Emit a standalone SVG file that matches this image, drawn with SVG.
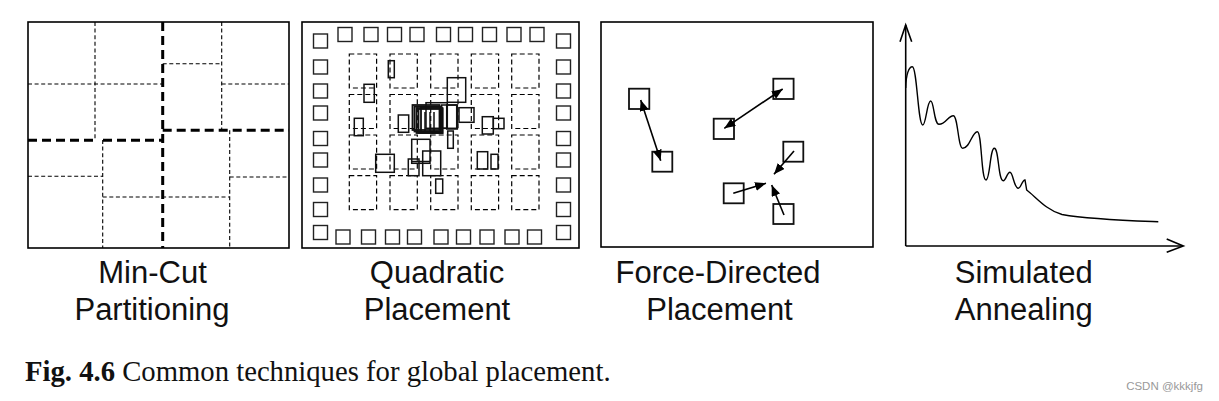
<svg xmlns="http://www.w3.org/2000/svg" width="1219" height="401" viewBox="0 0 1219 401">
<style>
.frame{fill:none;stroke:#000;stroke-width:1.6}
.thin{fill:none;stroke:#000;stroke-width:1.1;stroke-dasharray:4 2.6}
.thick{fill:none;stroke:#000;stroke-width:3;stroke-dasharray:9 5}
.slot{fill:none;stroke:#000;stroke-width:1.2;stroke-dasharray:5 3}
.pad{fill:none;stroke:#222;stroke-width:1.4}
.cell{fill:none;stroke:#111;stroke-width:1.5}
.blk{fill:none;stroke:#111;stroke-width:1.8}
.arr{fill:none;stroke:#000;stroke-width:1.6}
.lbl{font-family:"Liberation Sans",Arial,sans-serif;font-size:31px;fill:#111;text-anchor:middle}
.cap{font-family:"Liberation Serif","Times New Roman",serif;font-size:28.7px;fill:#111}
</style>
<defs>
<marker id="ah" markerUnits="userSpaceOnUse" markerWidth="11" markerHeight="9" refX="11" refY="4.5" orient="auto-start-reverse">
<path d="M0,0 L11,4.5 L0,9 z" fill="#000"/>
</marker>
</defs>
<rect width="1219" height="401" fill="#fff"/>

<g id="mincut">
<rect class="frame" x="28" y="22" width="261" height="226"/>
<line class="thin" x1="95" y1="22" x2="95" y2="140"/>
<line class="thin" x1="28" y1="84" x2="162.7" y2="84"/>
<line class="thin" x1="102.7" y1="140" x2="102.7" y2="248"/>
<line class="thin" x1="28" y1="176.3" x2="102.7" y2="176.3"/>
<line class="thin" x1="102.7" y1="197" x2="229.7" y2="197"/>
<line class="thin" x1="221.7" y1="22" x2="221.7" y2="130.3"/>
<line class="thin" x1="162.7" y1="63.7" x2="221.7" y2="63.7"/>
<line class="thin" x1="221.7" y1="84" x2="289" y2="84"/>
<line class="thin" x1="229.7" y1="130.3" x2="229.7" y2="248"/>
<line class="thin" x1="229.7" y1="177" x2="289" y2="177"/>
<line class="thick" x1="162.7" y1="22" x2="162.7" y2="248"/>
<line class="thick" x1="28" y1="140.3" x2="96" y2="140.3"/>
<line class="thick" x1="103" y1="140.3" x2="162.7" y2="140.3"/>
<line class="thick" x1="162.7" y1="130.3" x2="289" y2="130.3"/>
<text class="lbl" x="152.5" y="283">Min-Cut</text>
<text class="lbl" x="152" y="320">Partitioning</text>
</g>

<g id="quadratic">
<rect class="frame" x="302" y="22" width="277" height="226"/>
<g id="pads">
<rect class="pad" x="338" y="27.5" width="14" height="14"/>
<rect class="pad" x="364" y="27.5" width="14" height="14"/>
<rect class="pad" x="387.5" y="27.5" width="14" height="14"/>
<rect class="pad" x="410" y="27.5" width="14" height="14"/>
<rect class="pad" x="436.5" y="27.5" width="14" height="14"/>
<rect class="pad" x="458.5" y="27.5" width="14" height="14"/>
<rect class="pad" x="482.5" y="27.5" width="14" height="14"/>
<rect class="pad" x="507" y="27.5" width="14" height="14"/>
<rect class="pad" x="530" y="27.5" width="14" height="14"/>
<rect class="pad" x="336" y="230" width="14" height="14"/>
<rect class="pad" x="361.5" y="230" width="14" height="14"/>
<rect class="pad" x="385.5" y="230" width="14" height="14"/>
<rect class="pad" x="407.5" y="230" width="14" height="14"/>
<rect class="pad" x="434" y="230" width="14" height="14"/>
<rect class="pad" x="456.5" y="230" width="14" height="14"/>
<rect class="pad" x="480" y="230" width="14" height="14"/>
<rect class="pad" x="505" y="230" width="14" height="14"/>
<rect class="pad" x="527.5" y="230" width="14" height="14"/>
<rect class="pad" x="313.5" y="34" width="14" height="14"/>
<rect class="pad" x="313.5" y="60" width="14" height="14"/>
<rect class="pad" x="313.5" y="84" width="14" height="14"/>
<rect class="pad" x="313.5" y="106" width="14" height="14"/>
<rect class="pad" x="313.5" y="131.5" width="14" height="14"/>
<rect class="pad" x="313.5" y="153" width="14" height="14"/>
<rect class="pad" x="313.5" y="178" width="14" height="14"/>
<rect class="pad" x="313.5" y="202.5" width="14" height="14"/>
<rect class="pad" x="313.5" y="225.5" width="14" height="14"/>
<rect class="pad" x="556.5" y="34" width="14" height="14"/>
<rect class="pad" x="556.5" y="60" width="14" height="14"/>
<rect class="pad" x="556.5" y="84" width="14" height="14"/>
<rect class="pad" x="556.5" y="106" width="14" height="14"/>
<rect class="pad" x="556.5" y="131.5" width="14" height="14"/>
<rect class="pad" x="556.5" y="153" width="14" height="14"/>
<rect class="pad" x="556.5" y="178" width="14" height="14"/>
<rect class="pad" x="556.5" y="202.5" width="14" height="14"/>
<rect class="pad" x="556.5" y="225.5" width="14" height="14"/>
</g>
<g id="slots">
<rect class="slot" x="349.3" y="54" width="27.3" height="34"/>
<rect class="slot" x="390" y="54" width="27.3" height="34"/>
<rect class="slot" x="430.7" y="54" width="27.3" height="34"/>
<rect class="slot" x="471.3" y="54" width="27.3" height="34"/>
<rect class="slot" x="511.7" y="54" width="27.3" height="34"/>
<rect class="slot" x="349.3" y="94.5" width="27.3" height="34"/>
<rect class="slot" x="390" y="94.5" width="27.3" height="34"/>
<rect class="slot" x="430.7" y="94.5" width="27.3" height="34"/>
<rect class="slot" x="471.3" y="94.5" width="27.3" height="34"/>
<rect class="slot" x="511.7" y="94.5" width="27.3" height="34"/>
<rect class="slot" x="349.3" y="135" width="27.3" height="34"/>
<rect class="slot" x="390" y="135" width="27.3" height="34"/>
<rect class="slot" x="430.7" y="135" width="27.3" height="34"/>
<rect class="slot" x="471.3" y="135" width="27.3" height="34"/>
<rect class="slot" x="511.7" y="135" width="27.3" height="34"/>
<rect class="slot" x="349.3" y="175.7" width="27.3" height="34"/>
<rect class="slot" x="390" y="175.7" width="27.3" height="34"/>
<rect class="slot" x="430.7" y="175.7" width="27.3" height="34"/>
<rect class="slot" x="471.3" y="175.7" width="27.3" height="34"/>
<rect class="slot" x="511.7" y="175.7" width="27.3" height="34"/>
</g>
<g id="cells">
<rect class="cell" x="388.3" y="60.7" width="6" height="17"/>
<rect class="cell" x="364" y="84.3" width="10.3" height="18"/>
<rect class="cell" x="447.3" y="77.7" width="18.4" height="24.6"/>
<rect class="cell" x="354.3" y="118.3" width="9" height="17.4"/>
<rect class="cell" x="398.3" y="115" width="10.4" height="17.3"/>
<rect class="cell" x="446.7" y="105" width="10.6" height="24"/>
<rect class="cell" x="459" y="107.7" width="15" height="14.6"/>
<rect class="cell" x="447.7" y="131" width="5.6" height="17.3"/>
<rect class="cell" x="482.3" y="116.7" width="11" height="17.3"/>
<rect class="cell" x="493.3" y="118.3" width="10.7" height="10.4"/>
<rect class="cell" x="411.7" y="139.3" width="18.3" height="24"/>
<rect class="cell" x="375.7" y="154.3" width="18.6" height="18"/>
<rect class="cell" x="408.3" y="159" width="10.7" height="16.7"/>
<rect class="cell" x="422.7" y="151" width="18" height="24.7"/>
<rect class="cell" x="477.3" y="151.7" width="10.4" height="17.3"/>
<rect class="cell" x="491" y="154.3" width="7" height="14.7"/>
<rect class="cell" x="435.7" y="179" width="7" height="14.3"/>
<rect class="blk" x="412.5" y="105" width="27" height="25"/>
<rect class="blk" x="414.5" y="106.5" width="26" height="25"/>
<rect class="blk" x="416.5" y="108" width="26" height="25"/>
<rect class="blk" x="418.5" y="109" width="24" height="24"/>
<rect class="blk" x="421" y="107" width="20" height="25"/>
<rect class="cell" x="426" y="102.7" width="21.3" height="25.6"/>
<rect class="cell" x="441.7" y="105" width="15" height="23.3"/>
<line class="cell" x1="425" y1="112" x2="425" y2="131"/>
<line class="cell" x1="430" y1="112" x2="430" y2="131"/>
<line class="cell" x1="434" y1="112" x2="434" y2="131"/>
<line class="cell" x1="411.7" y1="161.5" x2="430" y2="161.5"/>
</g>
<text class="lbl" x="437" y="283">Quadratic</text>
<text class="lbl" x="437" y="320">Placement</text>
</g>

<g id="forcedirected">
<rect class="frame" x="601" y="22" width="272" height="225"/>
<rect id="fdA" class="blk" x="629" y="88.7" width="20.3" height="20.3"/>
<rect id="fdB" class="blk" x="652.3" y="151.7" width="20" height="20"/>
<rect id="fdC" class="blk" x="773.3" y="78.7" width="20.3" height="20.3"/>
<rect id="fdD" class="blk" x="713.7" y="118.7" width="20.3" height="20.3"/>
<rect id="fdE" class="blk" x="783.3" y="141.7" width="20" height="20"/>
<rect id="fdF" class="blk" x="723.7" y="183.3" width="20" height="20"/>
<rect id="fdG" class="blk" x="773.3" y="204" width="20.3" height="20"/>
<text class="lbl" x="718" y="283">Force-Directed</text>
<text class="lbl" x="719.5" y="320">Placement</text>
</g>

<g id="connectors">
<line class="arr" x1="640.7" y1="100" x2="660.7" y2="160.7" marker-start="url(#ah)" marker-end="url(#ah)"/>
<line class="arr" x1="724.3" y1="128.3" x2="782.7" y2="89" marker-start="url(#ah)" marker-end="url(#ah)"/>
<line class="arr" x1="794" y1="151" x2="774" y2="174.3" marker-end="url(#ah)"/>
<line class="arr" x1="733.3" y1="193.3" x2="766" y2="183.3" marker-end="url(#ah)"/>
<line class="arr" x1="784" y1="215" x2="771.7" y2="185" marker-end="url(#ah)"/>
</g>

<g id="annealing">
<line class="arr" x1="905.7" y1="25" x2="905.7" y2="246"/>
<line class="arr" x1="905.7" y1="246" x2="1183" y2="246"/>
<polyline class="arr" points="900,41.7 905.7,25 911.7,41.7"/>
<polyline class="arr" points="1166.7,239 1183.3,246 1166.7,252.3"/>
<path fill="none" stroke="#000" stroke-width="1.4" d="M905.7,88 C906,74 909,66.7 912.3,66.7 C917,66.7 918,125 922.7,125 C926,125 927,101 930.7,101 C934,101 934,124.3 939,124.3 C946,124.3 948,115.7 953.3,115.7 C958,115.7 958,148.3 962.7,148.3 C970,148.3 972,131.7 977.3,131.7 C982,131.7 981,180 986,180 C990,180 990,148.3 994.3,148.3 C999,148.3 998,180.7 1003.3,180.7 C1006,180.7 1007,172.3 1010,172.3 C1013,172.3 1014,188.3 1018.3,188.3 C1021,188.3 1022,180 1025,180 L1026.7,190 C1036,197 1046,210 1062,214.5 C1090,219.5 1125,220.5 1158.3,221.7"/>
<text class="lbl" x="1023.7" y="283">Simulated</text>
<text class="lbl" x="1023.7" y="320">Annealing</text>
</g>

<g id="caption">
<text class="cap" x="25" y="381"><tspan font-weight="bold">Fig. 4.6</tspan> Common techniques for global placement.</text>
<text x="1203" y="390" font-family="'Liberation Sans',Arial,sans-serif" font-size="11.5" fill="#999" text-anchor="end">CSDN @kkkjfg</text>
</g>
</svg>
